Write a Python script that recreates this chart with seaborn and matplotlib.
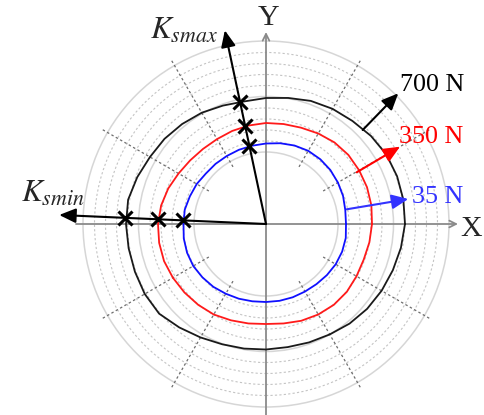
import numpy as np
import pandas as pd
import matplotlib
matplotlib.use("Agg")
import matplotlib.pyplot as plt
from matplotlib.patches import Circle
import seaborn as sns

angles = list(range(0, 360, 10))
r_700 = [139, 139.5, 139.5, 139, 137, 134.5, 133, 131, 128, 126,
         124.5, 126, 128.5, 130.5, 132.5, 134, 137, 140, 140, 139.5,
         139.5, 140, 139.5, 135, 131, 128, 126.5, 125.5, 125, 126,
         127.5, 130, 132, 133.5, 135, 137]
r_350 = [106, 107, 107.5, 107.5, 107.5, 106.5, 104.5, 102.5, 101.5, 101,
         100, 99, 98, 98, 99, 101, 104, 106.5, 108, 108.5,
         108.5, 107.5, 106.5, 105.5, 104.5, 102.5, 101, 100, 101, 103,
         104.5, 105.5, 105.5, 104.5, 104, 105]
r_35 = [80, 80.5, 82, 83, 84, 84.5, 84.5, 83.5, 82, 80.5,
        79.5, 79, 78.5, 78.5, 78.5, 80, 81, 82.5, 82.5, 83.5,
        84, 84, 83, 82, 80.5, 79.5, 78.5, 78, 78, 78,
        78, 78.5, 79.5, 80.5, 81, 81]
loads = ["700 N", "350 N", "35 N"]
colors = ["#1a1a1a", "#ff1a1a", "#1010ff"]
text_colors = ["black", "#ff0000", "#3333ff"]

# polar grid
ring_major = [72, 127.5, 183]
ring_minor = [83, 94, 105, 116, 138.5, 149.5, 160.5, 171.5]
spoke_angles = [30, 60, 120, 150, 210, 240, 300, 330]
spoke_r = [66, 189]

# stiffness directions and marked crossings
kmax_angle = 102
kmax_r = [124.5, 100, 79.5]
kmin_angle = 177.5
kmin_r = [141, 108, 83]


def polar(r, deg):
    t = np.deg2rad(deg)
    return np.asarray(r) * np.cos(t), np.asarray(r) * np.sin(t)


rows = []
for name, rr in zip(loads, [r_700, r_350, r_35]):
    a = angles + [angles[0]]
    r = rr + [rr[0]]
    x, y = polar(r, a)
    for i in range(len(a)):
        rows.append({"load": name, "idx": i, "x": x[i], "y": y[i]})
df = pd.DataFrame(rows)

sns.set_theme(style="white")
plt.rcParams["font.family"] = ["Liberation Serif", "DejaVu Serif"]
plt.rcParams["mathtext.fontset"] = "stix"

fig = plt.figure(figsize=(4.85, 4.15), dpi=100)
ax = fig.add_axes([0, 0, 1, 1])
ax.set_xlim(-266, 219)
ax.set_ylim(-191, 224)
ax.axis("off")

# grid rings and spokes
for r in ring_minor:
    ax.add_patch(Circle((0, 0), r, fill=False, ec="#c4c4c4", lw=0.8,
                        ls=(0, (2, 2)), zorder=1))
for r in ring_major:
    ax.add_patch(Circle((0, 0), r, fill=False, ec="#d6d6d6", lw=1.1, zorder=1))
for a in spoke_angles:
    sx, sy = polar(spoke_r, a)
    ax.plot(sx, sy, color="#6e6e6e", lw=0.9, ls=(0, (2, 2)), zorder=1)

# X / Y axes
ax.annotate("", xy=(192, 0), xytext=(-190, 0),
            arrowprops=dict(arrowstyle="->", color="#8a8a8a", lw=1.3,
                            shrinkA=0, shrinkB=0), zorder=2)
ax.annotate("", xy=(0, 192), xytext=(0, -195),
            arrowprops=dict(arrowstyle="->", color="#8a8a8a", lw=1.3,
                            shrinkA=0, shrinkB=0), zorder=2)
ax.text(194, -12, "X", fontsize=21.5, ha="left", va="baseline")
ax.text(3, 199, "Y", fontsize=21.5, ha="center", va="baseline")

# curves
sns.lineplot(data=df, x="x", y="y", hue="load", palette=colors,
             hue_order=loads, sort=False, estimator=None, units="load",
             legend=False, lw=1.3, ax=ax, zorder=3)

# Ks directions
head = "-|>,head_length=0.5,head_width=0.22"
for ang, length in [(kmax_angle, 198), (kmin_angle, 207)]:
    tx, ty = polar(length, ang)
    ax.annotate("", xy=(tx, ty), xytext=(0, 0),
                arrowprops=dict(arrowstyle=head, color="black", lw=1.5,
                                mutation_scale=20, shrinkA=0, shrinkB=0),
                zorder=4)
mx, my = polar(kmax_r, kmax_angle)
nx, ny = polar(kmin_r, kmin_angle)
ax.plot(np.r_[mx, nx], np.r_[my, ny], ls="none", marker="x", ms=10,
        mew=2.2, color="black", zorder=5)
ax.text(-116, 185.7, r"$K_{smax}$", fontsize=22.5, va="baseline")
ax.text(-245, 22.3, r"$K_{smin}$", fontsize=22.5, va="baseline")

# load labels
label_arrows = [((96.7, 94), (132.3, 130.7)),
                ((90.7, 51.7), (134, 77.3)),
                ((80.7, 14.7), (142.3, 25))]
label_pos = [(134, 133.3), (133.3, 80.7), (145.7, 20.7)]
for name, c, (p0, p1), (lx, ly) in zip(loads, text_colors, label_arrows, label_pos):
    ax.annotate("", xy=p1, xytext=p0,
                arrowprops=dict(arrowstyle=head, color=c, lw=1.5,
                                mutation_scale=20, shrinkA=0, shrinkB=0),
                zorder=4)
    ax.text(lx, ly, name, color=c, fontsize=18.7, ha="left", va="baseline")

fig.savefig("out.png", dpi=100)
